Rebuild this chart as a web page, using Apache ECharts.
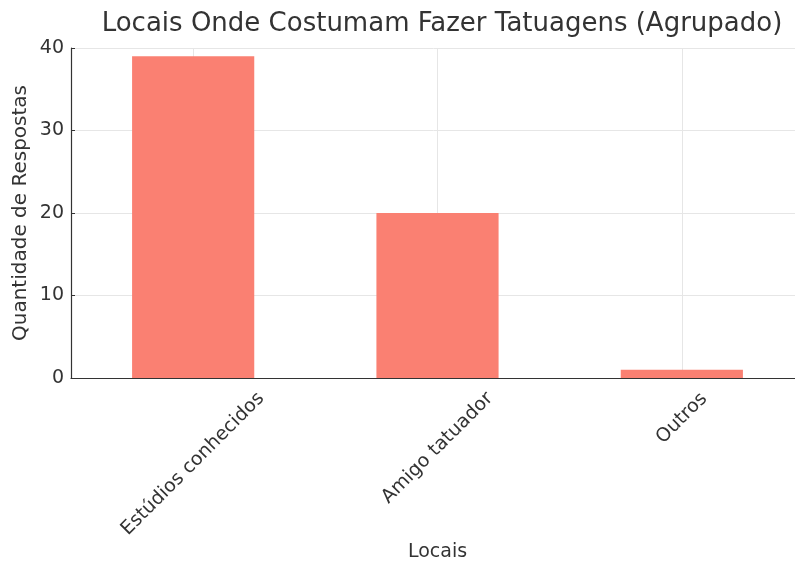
<!DOCTYPE html>
<html>
<head>
<meta charset="utf-8">
<script src="https://cdn.jsdelivr.net/npm/echarts@6/dist/echarts.min.js"></script>
<style>
  html, body { margin: 0; padding: 0; background: #fff; }
  #chart { width: 795px; height: 568px; }
</style>
</head>
<body>
<div id="chart"></div>
<script>
var categories = ['Estúdios conhecidos', 'Amigo tatuador', 'Outros'];
var respostas = [39, 20, 1];
var yTicks = [0, 10, 20, 30, 40];

var font = 'DejaVu Sans';
var labelSize = 19;

// labels rotated 45deg but centred under the tick (like matplotlib ha='center'):
// shift each one down/back with padding so its middle sits below the tick
var ctx = document.createElement('canvas').getContext('2d');
ctx.font = labelSize + 'px "' + font + '"';
var catData = categories.map(function (name) {
    var w = ctx.measureText(name).width;
    var dy = 11 + (w + labelSize) * 0.3536;
    var d = dy / 1.414;
    var top = Math.max(0, Math.round(d - labelSize / 2));
    var right = Math.round(2 * d);
    return {
        value: name,
        textStyle: { align: 'center', verticalAlign: 'top', padding: [top, right, 0, 0] }
    };
});

var chart = echarts.init(document.getElementById('chart'));
chart.setOption({
    animation: false,
    title: {
        text: 'Locais Onde Costumam Fazer Tatuagens (Agrupado)',
        left: 437,
        top: 6,
        textAlign: 'center',
        textStyle: { fontFamily: font, fontSize: 26, fontWeight: 'normal', color: '#333' }
    },
    grid: { left: 71, right: -9, top: 48, bottom: 190, outerBoundsMode: 'none', containLabel: false },
    xAxis: {
        type: 'category',
        data: catData,
        name: 'Locais',
        nameLocation: 'middle',
        nameGap: 165,
        nameMoveOverlap: false,
        nameTextStyle: { fontFamily: font, fontSize: 19, color: '#333' },
        axisLine: { lineStyle: { color: '#333', width: 1.2 } },
        axisTick: { alignWithLabel: true, inside: true, length: 4, lineStyle: { color: '#333' } },
        axisLabel: {
            interval: 0, rotate: 45, margin: 0,
            align: 'center', verticalAlign: 'top',
            fontFamily: font, fontSize: labelSize, color: '#333'
        },
        splitLine: { show: true, alignWithLabel: true, lineStyle: { color: '#e6e6e6' } }
    },
    yAxis: {
        type: 'value',
        min: yTicks[0],
        max: yTicks[yTicks.length - 1],
        interval: 10,
        name: 'Quantidade de Respostas',
        nameLocation: 'middle',
        nameGap: 40,
        nameMoveOverlap: false,
        nameTextStyle: { fontFamily: font, fontSize: 20, color: '#333' },
        axisLine: { show: true, lineStyle: { color: '#333', width: 1.2 } },
        axisTick: { show: true, inside: true, length: 4, lineStyle: { color: '#333' } },
        axisLabel: { fontFamily: font, fontSize: labelSize, color: '#333', margin: 7 },
        splitLine: { show: true, lineStyle: { color: '#e6e6e6' } }
    },
    series: [{
        type: 'bar',
        data: respostas,
        barWidth: '50%',
        itemStyle: { color: '#fa8072' }
    }]
});
</script>
</body>
</html>
